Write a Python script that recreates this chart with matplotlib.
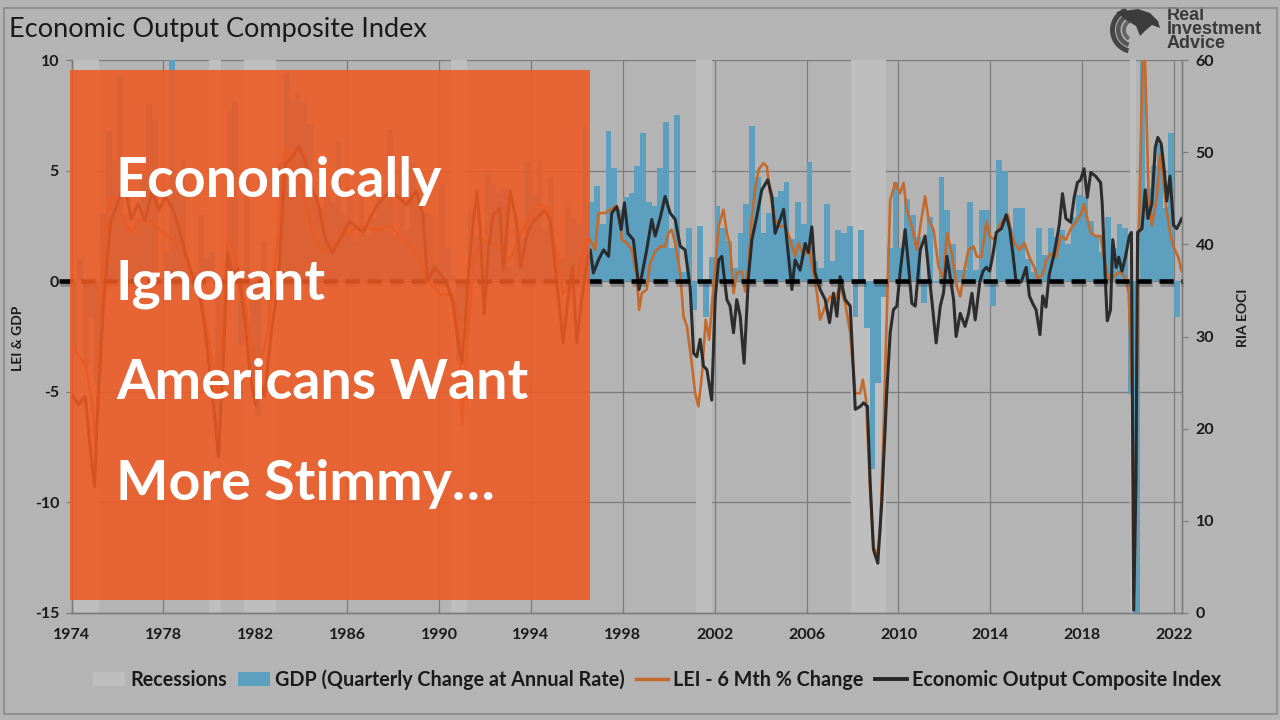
import matplotlib
matplotlib.use("Agg")
import matplotlib.pyplot as plt
import matplotlib.patheffects as pe
import matplotlib.transforms as mtransforms
from matplotlib.patches import Rectangle, Polygon, Wedge, Patch
from matplotlib.lines import Line2D

# ---------------- data ----------------
recessions = [(1973.95, 1975.2), (1980.0, 1980.5), (1981.5, 1982.9), (1990.5, 1991.2),
              (2001.2, 2001.9), (2007.95, 2009.45), (2020.1, 2020.35)]

gdp_start = 1974.0
gdp_qoq = [
    -3.4, 1.0, -3.8, -1.6,   -4.7, 3.1, 6.8, 5.5,    9.3, 3.0, 2.2, 2.9,    4.8, 8.0, 7.3, 0.0,
    1.3, 16.4, 4.1, 5.5,     0.7, 0.4, 3.0, 1.0,     1.3, -8.0, -0.5, 7.7,  8.1, -2.9, 4.9, -4.3,
    -6.1, 1.8, -1.5, 0.2,    5.4, 9.4, 8.2, 8.6,     8.1, 7.1, 3.9, 3.3,    3.9, 3.6, 6.3, 3.0,
    3.8, 1.8, 3.9, 2.1,      2.8, 4.6, 3.6, 6.9,     2.1, 5.4, 2.3, 5.4,    4.1, 3.1, 3.0, 0.8,
    4.4, 1.5, 0.3, -3.6,     -1.9, 3.2, 2.0, 1.9,    4.9, 4.4, 4.0, 4.2,    0.7, 2.3, 1.9, 5.4,
    3.9, 5.5, 2.3, 4.7,      1.2, 1.0, 3.4, 2.8,     2.6, 7.0, 3.6, 4.3,    2.6, 6.8, 5.1, 3.2,
    3.8, 4.0, 5.2, 6.7,      3.6, 3.4, 5.1, 7.2,     1.5, 7.5, 0.4, 2.4,    -1.3, 2.5, -1.6, 1.1,
    3.4, 2.4, 1.8, 0.6,      2.2, 3.5, 7.0, 4.7,     2.2, 3.1, 3.8, 4.1,    4.5, 1.9, 3.6, 2.6,
    5.4, 0.9, 0.6, 3.5,      0.9, 2.3, 2.2, 2.5,     -1.6, 2.3, -2.1, -8.5, -4.6, -0.7, 1.5, 4.5,
    1.5, 3.7, 3.0, 2.0,      -1.0, 2.9, -0.1, 4.7,   3.2, 1.7, 0.5, 0.5,    3.6, 0.5, 3.2, 3.2,
    -1.1, 5.5, 5.0, 2.3,     3.3, 3.3, 1.0, 0.4,     2.4, 1.2, 2.4, 2.0,    2.3, 1.7, 2.9, 3.9,
    3.8, 2.7, 2.1, 1.3,      2.9, 1.5, 2.6, 2.4,     -5.1, -31.2, 33.8, 4.2, 5.2, 6.2, 3.3, 6.7,
    -1.6,
]

lei_points = [
    (1974.0, -2.8), (1974.3, -3.4), (1974.6, -3.7), (1974.9, -5.5), (1975.05, -7.5), (1975.3, -0.9),
    (1975.5, 2.9), (1975.75, 3.8), (1976.0, 3.5), (1976.3, 2.7), (1976.6, 2.2), (1977.0, 2.8),
    (1977.5, 2.7), (1977.95, 2.2), (1978.4, 1.9), (1978.85, 1.3), (1979.25, 0.0), (1979.7, -0.9),
    (1980.1, -3.4), (1980.35, -5.2), (1980.55, -2.3), (1980.8, 1.9), (1981.1, 1.3), (1981.55, -0.9),
    (1981.85, -3.2), (1982.15, -4.0), (1982.55, -2.3), (1983.0, 2.2), (1983.3, 6.1), (1983.6, 5.3),
    (1984.05, 4.1), (1984.5, 2.2), (1984.9, 1.3), (1985.35, 1.6), (1986.0, 2.2), (1986.7, 2.5),
    (1987.3, 2.3), (1987.9, 2.5), (1988.5, 1.8), (1989.0, 1.3), (1989.5, 0.0), (1990.05, -0.6),
    (1990.6, -0.6), (1990.85, -1.7), (1991.0, -6.5), (1991.2, -3.2), (1991.5, 1.0), (1991.9, 1.9),
    (1992.5, 1.6), (1993.1, 1.0), (1993.7, 2.5), (1994.3, 3.5), (1994.75, 3.3), (1995.1, 1.3),
    (1995.4, -0.6), (1996.0, 0.3), (1996.45, 1.9),
    (1996.58, 1.88), (1996.80, 1.42), (1996.94, 3.08), (1997.23, 3.08), (1997.45, 3.23), (1997.67, 3.38),
    (1997.81, 3.23), (1997.96, 1.88), (1998.17, 1.73), (1998.39, 1.42), (1998.61, 0.22), (1998.71, -1.29),
    (1998.83, -0.54), (1999.04, -0.38), (1999.19, 0.82), (1999.41, 1.35), (1999.63, 1.57), (1999.84, 1.57),
    (1999.99, 2.18), (2000.13, 2.33), (2000.28, 1.73), (2000.50, 0.37), (2000.64, -1.59), (2000.79, -2.04),
    (2001.00, -3.70), (2001.15, -5.06), (2001.29, -5.66), (2001.44, -4.30), (2001.61, -1.74), (2001.76, -2.64),
    (2001.95, -0.23), (2002.17, 2.48), (2002.38, 3.23), (2002.53, 2.18), (2002.67, 1.57), (2002.82, -0.54),
    (2002.96, 0.37), (2003.18, 0.45), (2003.33, -0.46), (2003.47, 0.67), (2003.62, 2.93), (2003.76, 4.14),
    (2003.91, 5.04), (2004.12, 5.34), (2004.27, 5.19), (2004.41, 3.98), (2004.63, 2.78), (2004.85, 2.48),
    (2005.07, 2.48), (2005.29, 1.88), (2005.50, 1.12), (2005.65, 1.73), (2005.87, 1.12), (2006.08, 1.57),
    (2006.30, 0.37), (2006.45, -0.54), (2006.59, -1.74), (2006.81, -1.14), (2007.03, -0.69), (2007.24, -0.84),
    (2007.46, -0.23), (2007.68, -0.99), (2007.90, -2.34), (2008.12, -5.06), (2008.33, -5.06), (2008.45, -4.45),
    (2008.59, -5.36), (2008.77, -9.58), (2008.91, -11.99), (2009.06, -12.44), (2009.20, -11.39), (2009.35, -6.86),
    (2009.49, -1.59), (2009.64, 3.68), (2009.86, 4.44), (2010.07, 3.98), (2010.22, 4.44), (2010.36, 3.23),
    (2010.58, 2.48), (2010.80, 1.42), (2010.95, 2.48), (2011.16, 3.84), (2011.31, 2.78), (2011.53, 2.33),
    (2011.74, 0.67), (2011.96, 0.07), (2012.11, 2.18), (2012.32, 1.27), (2012.54, -0.23), (2012.69, -0.69),
    (2012.90, 0.67), (2013.05, 1.42), (2013.27, 1.57), (2013.41, 1.12),
    (2013.61, 1.09), (2013.83, 2.68), (2013.97, 2.04), (2014.19, 1.88), (2014.40, 2.52), (2014.62, 2.84),
    (2014.76, 3.00), (2014.91, 2.20), (2015.05, 1.73), (2015.27, 1.41), (2015.48, 1.73), (2015.70, 1.09),
    (2015.92, 0.61), (2016.06, 0.13), (2016.28, 0.29), (2016.42, 0.93), (2016.64, 1.25), (2016.85, 1.09),
    (2017.07, 2.04), (2017.29, 1.88), (2017.50, 2.36), (2017.72, 2.68), (2017.93, 3.00), (2018.08, 3.48),
    (2018.22, 2.84), (2018.37, 2.20), (2018.58, 2.04), (2018.80, 2.04), (2018.94, 1.09), (2019.09, 0.29),
    (2019.23, -0.03), (2019.45, 0.29), (2019.66, 0.45), (2019.88, 0.13), (2020.02, -0.51), (2020.17, -4.98),
    (2020.28, -14.0), (2020.43, 0.6), (2020.53, 5.4), (2020.67, 12.0), (2020.77, 8.6), (2020.89, 3.8),
    (2021.03, 2.52), (2021.25, 3.80), (2021.39, 5.72), (2021.54, 4.44), (2021.68, 3.16), (2021.82, 2.20),
    (2021.97, 1.57), (2022.18, 1.09), (2022.33, 0.45),
]

eoci_points = [
    (1974.0, 23.8), (1974.3, 22.6), (1974.6, 23.5), (1974.8, 18.2), (1975.0, 13.7), (1975.15, 22.6),
    (1975.4, 33.8), (1975.7, 42.5), (1976.0, 44.4), (1976.3, 46.6), (1976.6, 42.7), (1976.9, 44.4),
    (1977.2, 42.5), (1977.5, 45.8), (1977.8, 43.7), (1978.1, 45.1), (1978.4, 43.9), (1978.65, 42.0),
    (1978.95, 39.1), (1979.25, 36.7), (1979.5, 35.8), (1979.8, 31.0), (1980.1, 24.5), (1980.4, 17.0),
    (1980.6, 26.9), (1980.8, 39.1), (1981.0, 36.7), (1981.25, 37.4), (1981.55, 31.7), (1981.75, 26.4),
    (1982.0, 22.6), (1982.2, 25.4), (1982.4, 23.5), (1982.7, 30.5), (1983.0, 35.8), (1983.3, 48.7),
    (1983.6, 49.4), (1983.9, 50.6), (1984.15, 49.2), (1984.5, 45.8), (1984.75, 44.4), (1985.05, 40.6),
    (1985.35, 39.1), (1985.7, 40.6), (1986.1, 42.5), (1986.7, 41.3), (1987.3, 44.3), (1987.9, 45.8),
    (1988.6, 44.3), (1989.0, 45.8), (1989.3, 43.2), (1989.5, 36.0), (1989.8, 37.5), (1990.05, 36.8),
    (1990.35, 35.7), (1990.6, 33.8), (1990.85, 29.0), (1991.0, 27.1), (1991.15, 31.7), (1991.3, 37.5),
    (1991.5, 42.7), (1991.65, 45.8), (1991.8, 41.3), (1991.96, 32.4), (1992.15, 39.4), (1992.35, 43.2),
    (1992.65, 43.9), (1992.8, 37.2), (1993.1, 45.8), (1993.4, 42.0), (1993.55, 37.5), (1993.85, 41.3),
    (1994.1, 42.5), (1994.4, 43.2), (1994.6, 43.7), (1994.85, 42.5), (1995.1, 36.5), (1995.4, 29.3),
    (1995.6, 33.8), (1995.8, 37.5), (1996.0, 29.3), (1996.2, 33.8), (1996.45, 38.4),
    (1996.58, 39.4), (1996.72, 36.9), (1996.94, 38.3), (1997.16, 39.4), (1997.38, 38.7), (1997.52, 43.4),
    (1997.74, 44.1), (1997.93, 41.6), (1998.07, 44.5), (1998.22, 41.2), (1998.46, 40.5), (1998.71, 35.1),
    (1998.90, 37.6), (1999.04, 39.4), (1999.26, 42.7), (1999.41, 40.9), (1999.63, 42.9), (1999.84, 45.2),
    (2000.06, 43.4), (2000.28, 42.7), (2000.50, 39.8), (2000.71, 39.4), (2000.93, 35.4), (2001.08, 28.2),
    (2001.22, 27.8), (2001.37, 29.7), (2001.51, 26.8), (2001.66, 26.4), (2001.87, 23.1), (2002.02, 34.0),
    (2002.17, 38.3), (2002.31, 38.7), (2002.53, 34.0), (2002.67, 33.3), (2002.82, 30.4), (2002.96, 34.0),
    (2003.11, 32.2), (2003.28, 27.1), (2003.47, 36.5), (2003.62, 40.5), (2003.83, 43.0), (2004.05, 45.9),
    (2004.31, 47.0), (2004.49, 45.2), (2004.63, 41.2), (2004.85, 42.7), (2005.00, 43.8), (2005.14, 40.5),
    (2005.36, 35.1), (2005.50, 38.3), (2005.72, 37.2), (2005.94, 40.1), (2006.08, 39.1), (2006.23, 41.9),
    (2006.37, 36.9), (2006.59, 35.1), (2006.81, 34.0), (2007.00, 31.5), (2007.17, 34.7), (2007.32, 32.2),
    (2007.46, 36.5), (2007.68, 34.0), (2007.90, 33.3), (2008.12, 22.1), (2008.33, 22.4), (2008.48, 22.8),
    (2008.65, 22.4), (2008.77, 14.1), (2008.91, 6.9), (2009.10, 5.4), (2009.28, 12.3), (2009.49, 23.9),
    (2009.64, 30.4), (2009.78, 32.9), (2009.93, 33.3), (2010.07, 36.9), (2010.29, 41.6), (2010.44, 37.6),
    (2010.58, 33.6), (2010.73, 33.3), (2010.95, 39.4), (2011.16, 40.9), (2011.31, 37.2), (2011.45, 34.0),
    (2011.64, 29.3), (2011.82, 33.3), (2011.96, 34.7), (2012.11, 38.7), (2012.25, 36.5), (2012.40, 34.0),
    (2012.51, 30.0), (2012.69, 32.5), (2012.90, 31.1), (2013.05, 32.5), (2013.20, 34.7), (2013.34, 31.8),
    (2013.54, 35.9), (2013.68, 37.1), (2013.83, 37.5), (2013.97, 37.1), (2014.12, 39.0), (2014.26, 41.3),
    (2014.48, 41.7), (2014.69, 43.2), (2014.84, 41.7), (2014.98, 39.0), (2015.12, 35.9), (2015.34, 35.9),
    (2015.56, 37.5), (2015.70, 34.4), (2015.84, 33.6), (2015.99, 32.9), (2016.16, 30.2), (2016.28, 34.4),
    (2016.42, 33.2), (2016.56, 36.7), (2016.78, 39.0), (2017.00, 42.1), (2017.14, 45.5), (2017.29, 42.8),
    (2017.50, 42.4), (2017.65, 45.1), (2017.79, 46.7), (2017.93, 47.0), (2018.08, 48.2), (2018.22, 45.1),
    (2018.37, 47.8), (2018.58, 47.4), (2018.80, 46.7), (2018.87, 44.4), (2019.01, 35.9), (2019.09, 31.7),
    (2019.23, 32.9), (2019.33, 40.5), (2019.48, 37.5), (2019.59, 38.6), (2019.73, 37.1), (2019.88, 38.6),
    (2020.05, 40.9), (2020.14, 41.3), (2020.24, 0.3), (2020.34, 14.5), (2020.41, 41.3), (2020.60, 41.7),
    (2020.74, 45.9), (2020.86, 42.8), (2021.03, 44.4), (2021.18, 50.5), (2021.29, 51.6), (2021.44, 50.9),
    (2021.58, 47.8), (2021.68, 44.7), (2021.82, 47.4), (2021.97, 42.1), (2022.11, 41.7), (2022.26, 42.4),
    (2022.33, 42.8),
]

year_ticks = list(range(1974, 2023, 4))
left_ticks = [-15, -10, -5, 0, 5, 10]
right_ticks = [0, 10, 20, 30, 40, 50, 60]

title = "Economic Output Composite Index"
headline = ["Economically", "Ignorant", "Americans Want", "More Stimmy…"]
legend_labels = ["Recessions", "GDP (Quarterly Change at Annual Rate)",
                 "LEI - 6 Mth % Change", "Economic Output Composite Index"]

# ---------------- style ----------------
BG = "#b4b4b4"
REC = "#bebebe"
GRID = "#7c7c7c"
BLUE = "#5c9fbf"
ORANGE = "#c46a2c"
DARK = "#262626"
TXT = "#1a1a1a"
FONT = ["Lato", "DejaVu Sans"]
W, H = 1280, 720


def P(x, y):
    return (x / W, 1 - y / H)


fig = plt.figure(figsize=(12.8, 7.2), dpi=100, facecolor=BG)

l, b = P(71.5, 613)
r, t = P(1181.7, 60)
ax = fig.add_axes([l, b, r - l, t - b])
ax.set_facecolor(BG)
ax.set_xlim(1974.0, 2022.33)
ax.set_ylim(-15, 10)

for yv in left_ticks[1:]:
    ax.axhline(yv, color=GRID, lw=0.9, zorder=0.5)
for yr in year_ticks[1:]:
    ax.axvline(yr, color=GRID, lw=0.9, zorder=0.5)

for s, e in recessions:
    ax.axvspan(s, e, color=REC, lw=0, zorder=1)

gdp_dates = [gdp_start + 0.25 * i for i in range(len(gdp_qoq))]
ax.bar(gdp_dates, gdp_qoq, width=0.25, align="edge", color=BLUE, lw=0, zorder=2)

lei_dates = [p[0] for p in lei_points]
lei_values = [p[1] for p in lei_points]
ax.plot(lei_dates, lei_values, color=ORANGE, lw=1.9, zorder=3, solid_joinstyle="round")

ax2 = ax.twinx()
ax2.set_ylim(0, 60)
eoci_dates = [p[0] for p in eoci_points]
eoci_values = [p[1] for p in eoci_points]
ax2.plot(eoci_dates, eoci_values, color=DARK, lw=2.2, zorder=3, alpha=0.95, solid_joinstyle="round")

# zero line (left 0 == right 36)
ax2.plot([1973.45, 2022.33], [36, 36], color="black", lw=3.3, dashes=(3.1, 1.7),
         zorder=5, clip_on=False,
         path_effects=[pe.SimpleLineShadow(offset=(0.8, -2.2), shadow_color="#333333", alpha=0.35),
                       pe.Normal()])

tick_font = dict(family=FONT, weight="bold", size=11.5)
ax.set_yticks(left_ticks)
ax.set_yticklabels([str(v) for v in left_ticks], **tick_font, color=TXT)
ax2.set_yticks(right_ticks)
ax2.set_yticklabels([str(v) for v in right_ticks], **tick_font, color=TXT)
ax.set_xticks(year_ticks)
ax.set_xticklabels([str(v) for v in year_ticks], family=FONT, weight="bold", size=11.5, color=TXT)
ax.tick_params(axis="y", length=4, width=0.9, color=GRID, pad=5)
ax2.tick_params(axis="y", length=4, width=0.9, color=GRID, pad=6)
ax.tick_params(axis="x", length=0, pad=11)
for a in (ax, ax2):
    for side in ("left", "right", "bottom"):
        a.spines[side].set_color(GRID)
        a.spines[side].set_linewidth(1.0)
    a.spines["top"].set_visible(False)

fig.text(*P(18, 338), "LEI & GDP", rotation=90, ha="center", va="center",
         family=FONT, weight="bold", size=10, color=TXT)
fig.text(*P(1243, 318), "RIA EOCI", rotation=90, ha="center", va="center",
         family=FONT, weight="bold", size=10, color=TXT)

fig.text(*P(9, 29), title, ha="left", va="center", family=FONT, size=19.5, color=TXT)

# logo
fig.text(*P(1167, 7), "Real\nInvestment\nAdvice", ha="left", va="top",
         family=["Liberation Sans", "DejaVu Sans"], weight="bold", size=13,
         color="#3a3a3a", linespacing=0.76)
pix = mtransforms.Affine2D().scale(1 / W, -1 / H).translate(0, 1) + fig.transFigure
for rad, wd, th1, th2, col in [(24, 5, 105, 250, "#454545"), (18, 4.5, 110, 255, "#555555"),
                               (12, 4, 120, 265, "#656565")]:
    fig.patches.append(Wedge((1134, 30), rad, th1, th2, width=wd, facecolor=col,
                             edgecolor="none", transform=pix))
fig.patches.append(Polygon([(1116, 12), (1138, 9), (1150, 13), (1158, 21), (1160, 28), (1152, 25),
                            (1146, 30), (1140, 36), (1136, 26), (1126, 20)], closed=True,
                           transform=pix, facecolor="#3c3c3c", edgecolor="none"))

# legend
handles = [Patch(facecolor=REC, edgecolor="none"), Patch(facecolor=BLUE, edgecolor="none"),
           Line2D([], [], color=ORANGE, lw=2.5), Line2D([], [], color=DARK, lw=2.8)]
fig.legend(handles, legend_labels, loc="center", bbox_to_anchor=P(657, 680), ncol=4,
           frameon=False, handlelength=1.65, handletextpad=0.25, columnspacing=0.55,
           prop=dict(family=FONT, weight="bold", size=14.2), labelcolor=TXT)

# outer frame
fig.patches.append(Rectangle(P(4, 714), (1277 - 4) / W, (714 - 8) / H, transform=fig.transFigure,
                             fill=False, edgecolor="#8a8a8a", lw=1.2, zorder=20))

# headline overlay box
bx0, by0 = P(70, 600)
bx1, by1 = P(590, 70)
fig.patches.append(Rectangle((bx0, by0), bx1 - bx0, by1 - by0, transform=fig.transFigure,
                             facecolor="#ef5a23", edgecolor="none", alpha=0.88, zorder=10))
for line, base in zip(headline, [197, 299, 399, 500]):
    fig.text(*P(116, base), line, ha="left", va="baseline", color="white",
             family=FONT, weight="bold", size=40, zorder=11)

fig.savefig("out.png", dpi=100, facecolor=BG)
